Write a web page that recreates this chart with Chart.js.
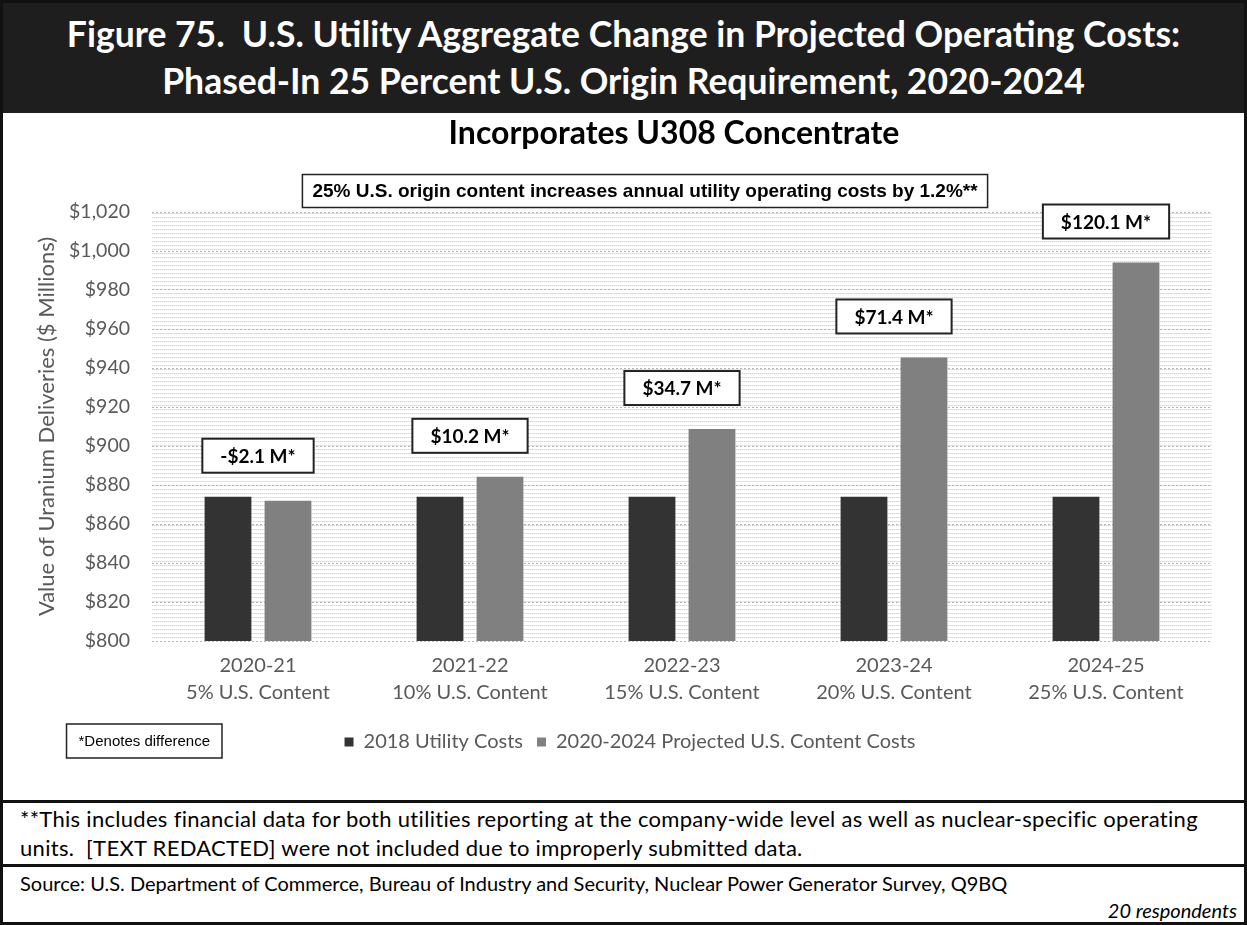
<!DOCTYPE html>
<html>
<head>
<meta charset="utf-8">
<script src="https://cdn.jsdelivr.net/npm/chart.js@4.4.1/dist/chart.umd.min.js"></script>
<style>
  html, body { margin: 0; padding: 0; background: #fff; }
  #frame { position: relative; width: 1247px; height: 925px; overflow: hidden; font-family: Lato, "Open Sans", sans-serif; }
  #head { position: absolute; left: 0; top: 0; width: 1247px; height: 113px; background: #1e1e1e; color: #fff;
          font-weight: 700; font-size: 35.5px; text-align: center; }
  #head div { position: absolute; left: 0; width: 100%; white-space: nowrap; }
  #chart { position: absolute; left: 0; top: 113px; }
  #note { position: absolute; left: 0; top: 800px; width: 1247px; height: 63px; border-top: 3px solid #111;
          font-size: 22px; letter-spacing: 0.3px; color: #000; }
  #note div, #source div { position: absolute; left: 20px; white-space: nowrap; }
  #source { position: absolute; left: 0; top: 864px; width: 1247px; height: 61px; border-top: 3px solid #111;
            font-size: 20px; color: #000; }
  #border { position: absolute; left: 0; top: 0; width: 1241px; height: 919px; border: 3px solid #111; pointer-events: none; }
</style>
</head>
<body>
<div id="frame">
  <div id="head">
    <div style="top:12px">Figure 75.&nbsp; U.S. Utility Aggregate Change in Projected Operating Costs:</div>
    <div style="top:59px">Phased-In 25 Percent U.S. Origin Requirement, 2020-2024</div>
  </div>
  <canvas id="chart" width="1247" height="687"></canvas>
  <div id="note">
    <div style="top:2px">**This includes financial data for both utilities reporting at the company-wide level as well as nuclear-specific operating</div>
    <div style="top:31px">units.&nbsp; [TEXT REDACTED] were not included due to improperly submitted data.</div>
  </div>
  <div id="source">
    <div style="top:4px">Source: U.S. Department of Commerce, Bureau of Industry and Security, Nuclear Power Generator Survey, Q9BQ</div>
    <div style="top:31px; left:auto; right:10px; font-style:italic">20 respondents</div>
  </div>
  <div id="border"></div>
</div>

<script>
// valores en millones de dólares
const categories = [
  ["2020-21", "5% U.S. Content"],
  ["2021-22", "10% U.S. Content"],
  ["2022-23", "15% U.S. Content"],
  ["2023-24", "20% U.S. Content"],
  ["2024-25", "25% U.S. Content"]
];
const utilityCosts2018 = [874.0, 874.0, 874.0, 874.0, 874.0];
const projectedCosts = [871.9, 884.2, 908.7, 945.4, 994.1];
const seriesNames = ["2018 Utility Costs", "2020-2024 Projected U.S. Content Costs"];

const subtitle = "Incorporates U308 Concentrate";
const noteText = "25% U.S. origin content increases annual utility operating costs by 1.2%**";
const denoteText = "*Denotes difference";
const yTitle = "Value of Uranium Deliveries ($ Millions)";

const GRAY_TXT = "#595959";

// etiqueta de diferencia: "-$2.1 M*", "$10.2 M*"
function diffLabel(i) {
  const d = projectedCosts[i] - utilityCosts2018[i];
  const s = "$" + Math.abs(d).toFixed(1) + " M*";
  return d < 0 ? "-" + s : s;
}

function fmtMoney(v) {
  return "$" + v.toLocaleString("en-US");
}

// fondo rayado del área de trazado
function makeStripes(ctx) {
  const c = document.createElement("canvas");
  c.width = 2; c.height = 4;
  const p = c.getContext("2d");
  p.fillStyle = "#ffffff"; p.fillRect(0, 0, 2, 4);
  p.fillStyle = "#d6d6d6"; p.fillRect(0, 0, 1, 1);
  p.fillStyle = "#ebebeb"; p.fillRect(1, 0, 1, 1);
  return ctx.createPattern(c, "repeat");
}

function boxedText(ctx, text, cx, cy, font, padX, h, lineW) {
  ctx.font = font;
  const w = ctx.measureText(text).width + padX * 2;
  ctx.fillStyle = "#fff";
  ctx.fillRect(cx - w / 2, cy - h / 2, w, h);
  ctx.lineWidth = lineW;
  ctx.strokeStyle = "#222";
  ctx.strokeRect(cx - w / 2, cy - h / 2, w, h);
  ctx.fillStyle = "#000";
  ctx.textAlign = "center";
  ctx.textBaseline = "middle";
  ctx.fillText(text, cx, cy + 1);
  return w;
}

const decorPlugin = {
  id: "decor",
  beforeDraw(chart) {
    const { ctx, chartArea: a } = chart;
    ctx.save();
    ctx.fillStyle = makeStripes(ctx);
    ctx.fillRect(a.left, a.top, a.right - a.left, a.bottom - a.top);
    ctx.restore();
  },
  afterDraw(chart) {
    const { ctx, chartArea: a } = chart;
    const x = chart.scales.x, y = chart.scales.y;
    ctx.save();

    // subtítulo
    ctx.font = "bold 32px Lato";
    ctx.fillStyle = "#000";
    ctx.textAlign = "center";
    ctx.textBaseline = "middle";
    ctx.fillText(subtitle, 674, a.top - 78);

    // recuadro de nota
    boxedText(ctx, noteText, 645, a.top - 21, "bold 19px 'Liberation Sans'", 10, 33, 1.5);

    // recuadros de diferencia sobre cada grupo
    for (let i = 0; i < categories.length; i++) {
      const top = y.getPixelForValue(Math.max(utilityCosts2018[i], projectedCosts[i]));
      boxedText(ctx, diffLabel(i), x.getPixelForValue(i), top - 41, "bold 19px Lato", 18, 34, 2);
    }

    // título del eje y
    ctx.save();
    ctx.translate(47, (a.top + a.bottom) / 2);
    ctx.rotate(-Math.PI / 2);
    ctx.font = "22px Lato";
    ctx.fillStyle = GRAY_TXT;
    ctx.textAlign = "center";
    ctx.textBaseline = "middle";
    ctx.fillText(yTitle, 0, 0);
    ctx.restore();

    // recuadro "*Denotes difference"
    const f = "15px 'Liberation Sans'";
    ctx.font = f;
    const w = ctx.measureText(denoteText).width + 24;
    boxedText(ctx, denoteText, 222 - w / 2, 628, f, 12, 34, 1.5);

    ctx.restore();
  }
};

new Chart(document.getElementById("chart").getContext("2d"), {
  type: "bar",
  data: {
    labels: categories,
    datasets: [
      { label: seriesNames[0], data: utilityCosts2018, backgroundColor: "#333333" },
      { label: seriesNames[1], data: projectedCosts, backgroundColor: "#808080" }
    ]
  },
  options: {
    responsive: false,
    animation: false,
    devicePixelRatio: 1,
    categoryPercentage: 0.566,
    barPercentage: 0.78,
    layout: { padding: { top: 99, right: 35, left: 48, bottom: 38 } },
    scales: {
      x: {
        grid: { display: false },
        border: { display: false },
        ticks: { color: GRAY_TXT, font: { family: "Lato", size: 20, lineHeight: 1.35 }, padding: 3, maxRotation: 0 },
        afterFit(scale) { scale.height = 77; }
      },
      y: {
        min: 800,
        max: 1020,
        ticks: { stepSize: 20, color: GRAY_TXT, font: { family: "Lato", size: 19.5 }, padding: 22, callback: v => fmtMoney(v) },
        grid: { color: "#b5b5b5", drawTicks: false },
        border: { display: false, dash: [2, 2] },
        afterFit(scale) { scale.width = 104; }
      }
    },
    plugins: {
      legend: {
        position: "bottom",
        labels: { color: GRAY_TXT, font: { family: "Lato", size: 20 }, boxWidth: 9, boxHeight: 9, padding: 14 }
      },
      tooltip: { enabled: false }
    }
  },
  plugins: [decorPlugin]
});
</script>
</body>
</html>
